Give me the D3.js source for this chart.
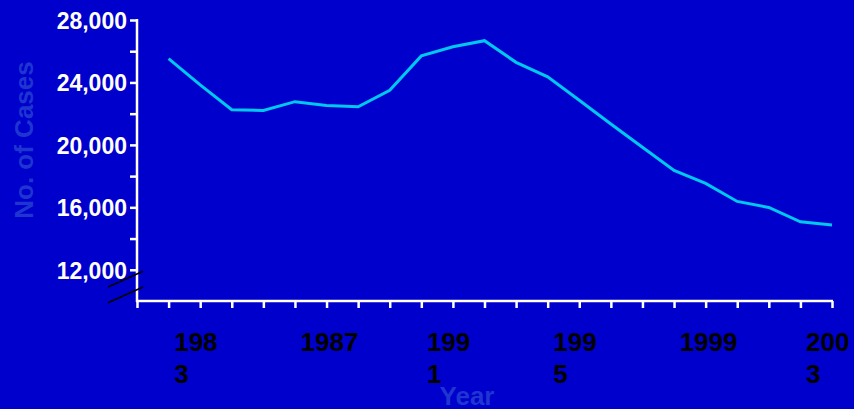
<!DOCTYPE html>
<html>
<head>
<meta charset="utf-8">
<script src="https://cdn.jsdelivr.net/npm/d3@7"></script>
<style>
  html, body { margin: 0; padding: 0; background: #0000cc; }
  svg { display: block; }
  text { font-family: "Liberation Sans", Arial, sans-serif; font-weight: bold; }
</style>
</head>
<body>
<svg id="chart" width="854" height="409"></svg>
<script>
// Reported cases by year
const years = [1982, 1983, 1984, 1985, 1986, 1987, 1988, 1989, 1990, 1991, 1992,
               1993, 1994, 1995, 1996, 1997, 1998, 1999, 2000, 2001, 2002, 2003];
const cases = [25520, 23846, 22255, 22201, 22768, 22517, 22436, 23495, 25701, 26283, 26673,
               25287, 24361, 22860, 21337, 19851, 18361, 17531, 16377, 15989, 15075, 14874];

// Labelled years on the x axis and how each label breaks across lines
const xLabelYears = [1983, 1987, 1991, 1995, 1999, 2003];
const xLabelLines = [["198", "3"], ["1987"], ["199", "1"], ["199", "5"], ["1999"], ["200", "3"]];

// Y axis ticks
const yMajorTicks = [12000, 16000, 20000, 24000, 28000];
const yMinorTicks = [14000, 18000, 22000, 26000];

const svg = d3.select("#chart");

const x = d3.scaleLinear().domain([1981, 2003]).range([137, 832]);
const y = d3.scaleLinear().domain([10000, 28000]).range([301, 20]);

const fmt = d3.format(",");

// Data line
svg.append("path")
  .datum(years.map((yr, i) => [yr, cases[i]]))
  .attr("fill", "none")
  .attr("stroke", "#00c8f0")
  .attr("stroke-width", 3)
  .attr("stroke-linejoin", "miter")
  .attr("d", d3.line().x(d => x(d[0])).y(d => y(d[1])));

// Y axis
const yAxis = svg.append("g")
  .attr("transform", `translate(${x(1981)},0)`)
  .call(d3.axisLeft(y).tickValues(yMajorTicks.concat(yMinorTicks))
    .tickSize(7).tickPadding(3)
    .tickFormat(d => yMajorTicks.includes(d) ? fmt(d) : ""));
yAxis.select(".domain").remove();
yAxis.selectAll(".tick line").attr("stroke", "#fff").attr("stroke-width", 2.5);
yAxis.selectAll(".tick text")
  .attr("fill", "#fff")
  .attr("font-size", 23)
  .attr("font-family", "'Liberation Sans', Arial, sans-serif")
  .attr("font-weight", "bold")
  .attr("dy", "0.36em");
yAxis.append("line")
  .attr("x1", 0).attr("x2", 0)
  .attr("y1", y(28000) - 1).attr("y2", y(10000) + 1)
  .attr("stroke", "#fff").attr("stroke-width", 2.5);

// X axis
const xAxis = svg.append("g")
  .attr("transform", `translate(0,${y(10000)})`)
  .call(d3.axisBottom(x).tickValues(d3.range(1981, 2004))
    .tickSize(7).tickFormat(""));
xAxis.select(".domain").remove();
xAxis.selectAll(".tick line").attr("stroke", "#fff").attr("stroke-width", 2.5);
xAxis.append("line")
  .attr("x1", x(1981) - 1).attr("x2", x(2003) + 1)
  .attr("y1", 0).attr("y2", 0)
  .attr("stroke", "#fff").attr("stroke-width", 2.5);

// Axis break marks
const breaks = svg.append("g").attr("stroke", "#000").attr("stroke-width", 1.6);
[[287, 271.3], [302.7, 287]].forEach(([yl, yr]) => {
  breaks.append("line")
    .attr("x1", x(1981) - 29).attr("y1", yl)
    .attr("x2", x(1981) + 6).attr("y2", yr);
});

// X tick labels
const xl = svg.append("g");
xLabelYears.forEach((yr, i) => {
  const t = xl.append("text")
    .attr("x", x(yr) - 26)
    .attr("y", 351)
    .attr("fill", "#000")
    .attr("font-size", 26);
  xLabelLines[i].forEach((line, j) => {
    t.append("tspan")
      .attr("x", x(yr) - 26)
      .attr("dy", j === 0 ? 0 : 31.5)
      .text(line);
  });
});

// Axis titles
svg.append("text")
  .attr("transform", "translate(33,140) rotate(-90)")
  .attr("text-anchor", "middle")
  .attr("fill", "#1e35d2")
  .attr("font-size", 26)
  .text("No. of Cases");

svg.append("text")
  .attr("x", 467)
  .attr("y", 405)
  .attr("text-anchor", "middle")
  .attr("fill", "#1e35d2")
  .attr("font-size", 26)
  .text("Year");
</script>
</body>
</html>
